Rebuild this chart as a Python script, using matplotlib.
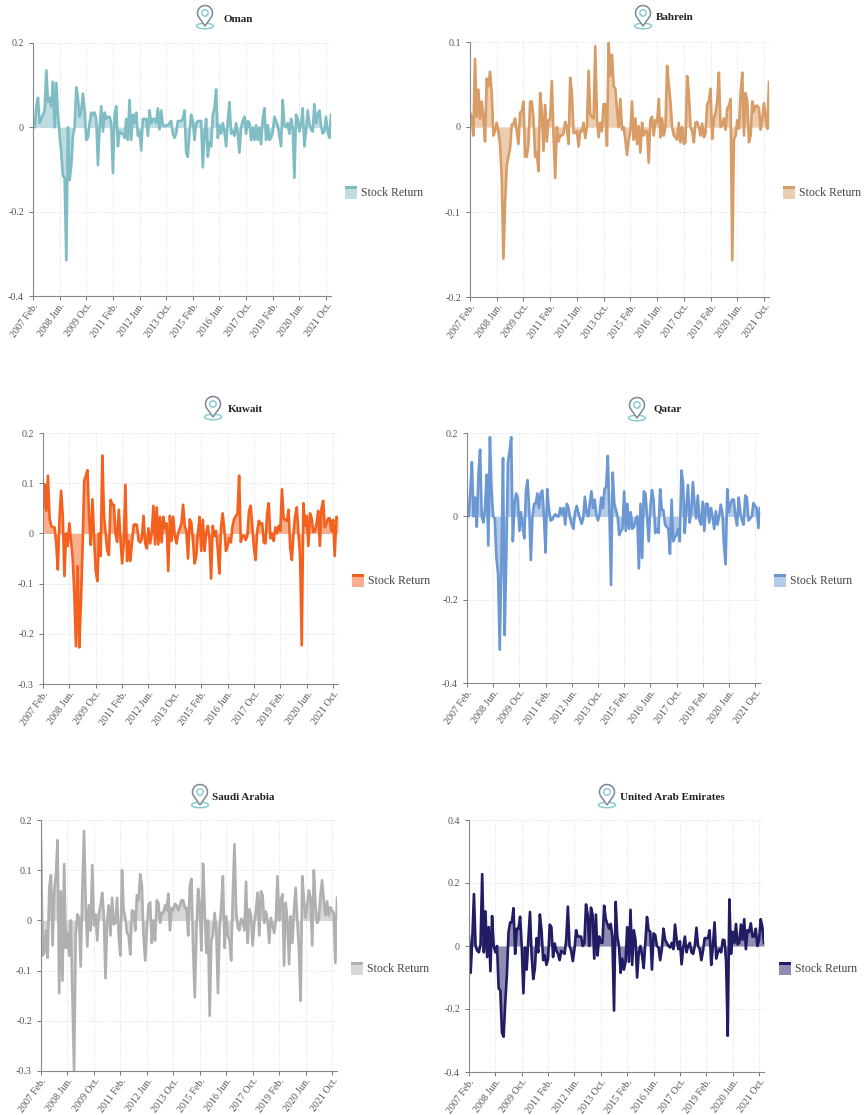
import numpy as np
import matplotlib
matplotlib.use('Agg')
import matplotlib.pyplot as plt
from matplotlib.patches import Rectangle, Ellipse, Circle, Polygon

plt.rcParams['font.family'] = ['Liberation Serif', 'DejaVu Serif']

W, H = 867, 1115

# monthly stock returns, 2007 Feb. - 2022 Jan.
oman = [0, 0, .05, .07, .01, .02, .03, .04, .135, .06, .07, .05, .108, 0, .105, .03, -.02, -.06, -.115, -.12,
        -.315, 0, -.125, -.09, -.02, 0, .095, .07, .025, .04, .08, .04, -.03, -.025, .01, .035, .03, .035, .02, -.09,
        0, .05, -.01, .035, .02, .025, .025, .01, -.108, .03, .05, -.045, -.01, -.015, -.015, -.025, .02, -.03, .065, -.03,
        .03, .01, .035, -.02, -.01, -.055, .02, .02, .02, -.02, .04, .01, .02, .02, .01, .045, -.005, .04, .005, .003,
        .005, .005, .01, .015, -.015, -.025, -.015, .015, .015, .015, .02, .04, -.06, -.07, -.01, .03, .015, -.03, .01, .015,
        .015, .015, -.095, -.02, .02, -.07, -.035, -.045, .03, .045, .09, -.025, .005, -.015, .01, -.01, -.045, .015, .06, -.015,
        -.01, -.02, .01, -.015, -.06, 0, .015, .025, -.015, .015, .01, -.03, 0, -.03, .005, -.03, 0, -.04, .02, .045,
        -.03, .005, -.03, -.025, -.01, .025, .015, .005, -.02, -.045, .065, .005, 0, .01, -.015, .02, 0, -.12, .03, .02,
        -.01, .01, .045, -.045, -.01, .04, .01, -.005, -.01, .055, .01, .03, .04, .005, -.015, -.01, .025, -.01, -.025, .03]
bahrein = [.017, .012, -.01, .08, .012, .044, .01, .03, .012, -.017, .057, .048, .065, .04, -.01, -.005, .005, -.005, -.02, -.06,
           -.155, -.09, -.045, -.035, -.025, .003, .003, .01, -.005, -.02, .017, .018, .03, -.035, -.035, -.02, .03, .03, .01, -.035,
           -.03, -.052, .04, .02, -.028, .026, -.017, .008, .01, .054, -.01, -.06, 0, -.017, -.01, -.01, -.008, .006, 0, -.02,
           .058, .04, -.007, -.007, -.005, -.023, -.005, -.005, .005, -.013, 0, .066, .015, .012, .01, .095, .01, -.012, .005, -.005,
           .027, .027, -.022, .099, .06, .085, .048, .045, .02, 0, .033, -.003, 0, -.015, -.033, -.015, -.005, .03, -.015, .01,
           -.02, .001, -.03, .005, -.01, -.005, -.005, -.042, .008, .012, -.01, .008, .005, .033, -.012, .01, -.01, 0, .072, .05,
           .03, 0, -.01, -.012, -.015, .005, -.018, 0, -.02, -.018, .06, .04, 0, -.005, -.018, .005, .006, 0, -.01, .004,
           -.012, -.008, .027, .03, .045, -.014, .01, .017, .03, .064, 0, .002, .01, -.003, .022, .025, .033, -.157, -.015, -.01,
           .008, -.002, .04, .064, -.01, .04, .03, -.018, -.01, .03, .018, .025, .025, .022, -.003, .01, .028, .012, -.002, .053]
kuwait = [.05, .098, .045, .115, .03, .015, .012, .012, -.02, -.072, .03, .085, .035, -.085, 0, -.025, .02, -.015, -.05, -.12,
          -.225, -.065, -.227, -.14, -.03, .105, .115, .126, .03, -.023, .068, -.01, -.075, -.095, 0, -.045, .155, .035, 0, -.035,
          -.043, .067, .058, .057, 0, -.017, .047, -.01, -.06, -.02, .097, -.055, -.015, -.055, -.02, .017, .018, .017, -.015, -.018,
          -.01, .035, -.02, -.03, .01, -.02, 0, .055, -.022, .052, -.022, .033, -.018, .033, .01, .02, -.075, .035, -.015, .033,
          -.005, -.02, 0, .01, .02, .057, .015, .005, -.05, .028, .022, -.015, -.06, -.045, 0, .033, -.035, .027, -.035, 0,
          .015, -.01, -.09, .015, -.005, .005, -.03, -.08, .01, .04, .01, -.035, -.025, -.01, -.018, .015, .028, .035, .038, .115,
          -.017, -.005, -.005, -.013, -.005, .045, .055, .015, -.03, -.053, .005, .025, .018, .02, -.018, -.02, .04, .06, -.01, 0,
          -.015, .012, 0, .015, .005, .088, .03, .027, .025, .047, -.03, -.053, 0, .035, .052, 0, -.045, -.223, .06, .015,
          .035, -.025, .04, .03, .003, .005, .02, .045, -.025, .05, .065, .012, .02, .03, .03, .005, .027, -.045, .033, .03]
qatar = [.012, 0, .06, .13, 0, .045, -.025, .1, .16, 0, -.015, .02, .1, -.07, .19, .06, 0, -.005, -.1, -.14,
         -.32, -.12, .14, -.285, -.1, .13, .155, .19, -.06, .03, .055, .045, -.035, .01, -.025, -.053, .06, .087, .015, -.105,
         0, .03, .03, .055, .02, .055, .062, 0, -.087, .065, .02, -.01, -.008, 0, .005, 0, 0, .02, .005, .02,
         -.02, .03, .02, -.005, -.02, -.03, .01, .025, .01, -.005, -.018, -.005, .047, .01, 0, .03, .06, .02, .04, .005,
         -.01, .005, .045, .02, .065, .07, .145, .01, -.165, .105, .03, .015, 0, -.045, -.035, -.03, .06, -.035, .03, -.03,
         .01, -.03, -.025, -.01, 0, -.125, .03, -.1, .06, .055, 0, -.06, .02, .063, .04, -.04, -.03, -.04, .065, .015,
         .015, -.02, -.025, -.03, -.09, .04, -.06, -.05, -.045, -.03, -.06, .11, .08, -.04, .02, .075, -.015, .01, .082, .03,
         -.005, .05, -.01, -.02, .035, -.035, .03, .03, -.015, .02, 0, -.03, .012, -.02, 0, .028, .01, -.07, -.115, .065,
         .01, .03, .04, .04, 0, -.022, .045, .01, -.01, -.02, .05, .045, -.01, -.005, 0, .032, .025, .02, -.028, .02]
saudi = [.158, -.07, -.065, -.02, -.075, .065, .09, -.05, .06, .09, .16, -.145, .058, -.12, .112, -.055, -.025, -.07, 0, -.15,
         -.3, -.03, .012, .005, -.092, .06, .178, .04, -.052, .03, -.02, .11, -.01, .012, -.04, .015, .03, .055, .01, -.115,
         0, .03, -.03, .045, -.008, -.005, .045, -.03, -.07, .1, .02, .005, -.025, -.03, -.068, .02, .018, -.02, .05, .04,
         .092, .07, -.03, -.08, -.02, .03, .036, -.045, 0, -.04, .04, .035, -.005, .015, .015, .03, .02, .053, -.02, .025,
         .02, .033, .03, .02, .03, .04, .04, .025, .025, -.03, .07, .083, -.06, -.153, -.02, .063, .03, -.06, .113, .02,
         -.065, 0, -.19, -.04, -.03, .015, -.02, -.145, -.02, .03, .088, -.055, .008, -.03, -.04, -.08, .05, .152, .02, -.015,
         -.02, .003, 0, -.02, .077, -.045, .022, .01, -.05, -.005, .02, .055, -.03, .058, .05, -.005, .018, 0, -.045, .005,
         -.01, -.025, 0, .088, 0, .04, .052, -.09, .035, 0, -.087, .008, -.045, .02, .065, 0, -.06, -.16, .088, .04,
         .005, .03, .06, .045, -.05, .1, .03, -.005, .002, .05, .08, .04, .01, .038, .01, .026, .02, .015, -.085, .045]
uae = [.03, -.085, .02, .165, 0, -.015, -.02, .005, .228, -.02, .11, -.035, .06, -.08, .095, 0, -.02, 0, -.135, -.14,
       -.275, -.288, -.18, -.09, .045, .075, .075, .12, -.025, .055, .055, .093, 0, -.15, -.005, -.075, .02, .108, -.03, -.105,
       -.07, .025, -.02, .1, .05, -.045, -.03, -.06, -.04, .068, .06, -.035, .008, -.015, -.025, -.045, -.015, -.02, -.025, .02,
       .125, 0, -.015, -.048, -.01, .05, .03, .03, .03, 0, .01, .132, .1, 0, .122, .1, -.04, .1, -.03, .03,
       .01, .01, .128, .085, .07, .055, .07, .03, -.205, .14, .03, 0, -.085, -.04, -.075, -.05, .06, -.05, .115, -.06,
       .05, .02, -.1, -.02, 0, -.03, -.07, .01, .092, .05, .045, -.075, .04, .035, 0, -.005, -.045, -.01, .055, .02,
       .01, 0, -.005, .01, -.01, .068, .02, -.01, .015, -.058, -.005, .03, -.02, 0, .01, -.02, -.025, 0, .058, 0,
       -.01, -.045, -.015, .025, .025, .025, .05, -.06, 0, .075, -.04, -.02, -.01, -.02, .02, .018, -.05, -.285, .148, -.025,
       .045, .01, .07, .005, .01, .068, .02, .085, -.01, .05, .045, .072, .03, .03, .055, 0, .02, .085, .06, .01]

tick_labels = ['2007 Feb.', '2008 Jun.', '2009 Oct.', '2011 Feb.', '2012 Jun.', '2013 Oct.',
               '2015 Feb.', '2016 Jun.', '2017 Oct.', '2019 Feb.', '2020 Jun.', '2021 Oct.']

# name, values, colour, y ticks, axes box (l, r, t, b), pin x, pin top, title x, title y, legend x, legend y
panels = [
    ('Oman', oman, '#7fbcc4', [-.4, -.2, 0, .2], (33, 331, 43, 296), 205, 5, 223, 19, 345, 186),
    ('Bahrein', bahrein, '#d89c66', [-.2, -.1, 0, .1], (470, 769, 42, 297), 643, 5, 656, 18, 783, 186),
    ('Kuwait', kuwait, '#f4611f', [-.3, -.2, -.1, 0, .1, .2], (43, 338, 433, 684), 213, 396, 228, 409, 352, 574),
    ('Qatar', qatar, '#6b98d3', [-.4, -.2, 0, .2], (467, 760, 433, 683), 637, 397, 654, 409, 774, 574),
    ('Saudi Arabia', saudi, '#b0b0b0', [-.3, -.2, -.1, 0, .1, .2], (41, 337, 820, 1071), 200, 784, 212, 797, 351, 962),
    ('United Arab Emirates', uae, '#211c63', [-.4, -.2, 0, .2, .4], (469, 764, 820, 1072), 607, 784, 620, 797, 779, 962),
]


def fmt(v):
    return '0' if abs(v) < 1e-9 else f'{v:g}'


fig = plt.figure(figsize=(W / 100, H / 100), dpi=100)

# overlay in pixel coordinates for the pins, titles and legends
over = fig.add_axes([0, 0, 1, 1], zorder=5)
over.set_xlim(0, W)
over.set_ylim(H, 0)
over.axis('off')


def draw_pin(cx, top):
    over.add_patch(Ellipse((cx, top + 21), 17, 5.5, fc='none', ec='#8ccbd6', lw=1.1))
    cy = top + 8
    r = 7.5
    a = np.linspace(np.radians(210), np.radians(-30), 40)
    pts = np.column_stack([cx + r * np.cos(a), cy - r * np.sin(a)])
    pts = np.vstack([pts, [cx, top + 21]])
    over.add_patch(Polygon(pts, closed=True, fc='white', ec='#7b8794', lw=1.1))
    over.add_patch(Circle((cx, cy), 3.2, fc='none', ec='#8ccbd6', lw=1.1))


for name, values, color, yticks, box, pin_x, pin_top, tx, ty, lx, ly in panels:
    l, r, t, b = box
    ax = fig.add_axes([l / W, 1 - b / H, (r - l) / W, (b - t) / H])
    xs = np.arange(len(values))
    vals = np.array(values)
    ax.fill_between(xs, vals, 0, color=color, alpha=0.5, lw=0)
    ax.plot(xs, vals, color=color, lw=1.9, solid_joinstyle='round')
    ax.set_xlim(0, len(values) - 1)
    ax.set_ylim(yticks[0], yticks[-1])
    ax.set_yticks(yticks)
    ax.set_yticklabels([fmt(v) for v in yticks])
    ax.set_xticks(xs[::16])
    ax.set_xticklabels(tick_labels, rotation=54, ha='right', va='top', rotation_mode='anchor')
    ax.tick_params(axis='x', pad=1)
    ax.tick_params(labelsize=7.2, colors='#777777', labelcolor='#555555', length=3, width=0.7)
    ax.grid(True, ls=':', lw=0.6, color='#d8d8d8')
    ax.set_axisbelow(True)
    for side in ['top', 'right']:
        ax.spines[side].set_visible(False)
    for side in ['left', 'bottom']:
        ax.spines[side].set_color('#888888')
        ax.spines[side].set_linewidth(0.8)

    draw_pin(pin_x, pin_top)
    over.text(tx, ty, name, fontsize=8, fontweight='bold', color='#222222', va='center', ha='left')
    over.add_patch(Rectangle((lx, ly), 12, 13, fc=color, alpha=0.5, lw=0))
    over.add_patch(Rectangle((lx, ly), 12, 2.5, fc=color, lw=0))
    over.text(lx + 16, ly + 7, 'Stock Return', fontsize=8.5, color='#444444', va='center', ha='left')

fig.savefig('out.png', dpi=100)
